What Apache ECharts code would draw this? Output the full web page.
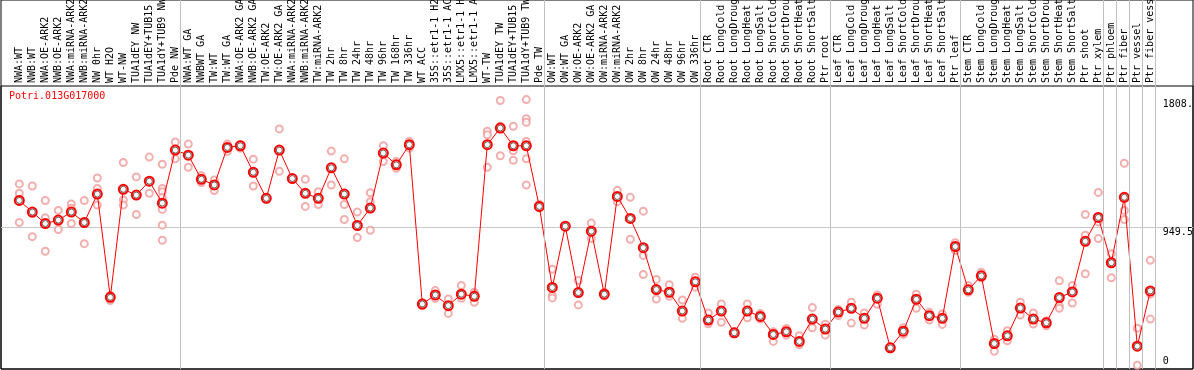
<!DOCTYPE html>
<html>
<head>
<meta charset="utf-8">
<style>html,body{margin:0;padding:0;background:#fff}#c{width:1194px;height:370px}</style>
<script src="https://cdn.jsdelivr.net/npm/echarts@6/dist/echarts.min.js"></script>
</head>
<body>
<div id="c"></div>
<script>
const title = 'Potri.013G017000';
const categories = [
 'NWA:WT','NWB:WT','NWA:OE-ARK2','NWB:OE-ARK2','NWA:miRNA-ARK2','NWB:miRNA-ARK2','NW 0hr','WT H2O','WT-NW','TUA1dEY NW',
 'TUA1dEY+TUB15 NW','TUA1dY+TUB9 NW','Pde NW','NWA:WT GA','NWBWT GA','TW:WT','TW:WT GA','NWA:OE-ARK2 GA','NWB:OE-ARK2 GA','TW:OE-ARK2',
 'TW:OE-ARK2 GA','NWA:miRNA-ARK2 GA','NWB:miRNA-ARK2 GA','TW:miRNA-ARK2','TW 2hr','TW 8hr','TW 24hr','TW 48hr','TW 96hr','TW 168hr',
 'TW 336hr','WT ACC','35S::etr1-1 H2O','35S::etr1-1 ACC','LMX5::etr1-1 H2O','LMX5::etr1-1 ACC','WT-TW','TUA1dEY TW','TUA1dEY+TUB15 TW','TUA1dY+TUB9 TW',
 'Pde TW','OW:WT','OW:WT GA','OW:OE-ARK2','OW:OE-ARK2 GA','OW:miRNA-ARK2','OW:miRNA-ARK2 GA','OW 2hr','OW 8hr','OW 24hr',
 'OW 48hr','OW 96hr','OW 336hr','Root CTR','Root LongCold','Root LongDrought','Root LongHeat','Root LongSalt','Root ShortCold','Root ShortDrought',
 'Root ShortHeat','Root ShortSalt','Ptr root','Leaf CTR','Leaf LongCold','Leaf LongDrought','Leaf LongHeat','Leaf LongSalt','Leaf ShortCold','Leaf ShortDrought',
 'Leaf ShortHeat','Leaf ShortSalt','Ptr leaf','Stem CTR','Stem LongCold','Stem LongDrought','Stem LongHeat','Stem LongSalt','Stem ShortCold','Stem ShortDrought',
 'Stem ShortHeat','Stem ShortSalt','Ptr shoot','Ptr xylem','Ptr phloem','Ptr fiber','Ptr vessel','Ptr fiber vessel'
];
const means = [
 1131,1053,976,999,1053,983,1174,481,1206,1167,
 1260,1113,1469,1435,1273,1235,1487,1498,1320,1145,
 1469,1278,1179,1145,1350,1174,963,1080,1449,1370,
 1505,436,497,425,502,488,1505,1617,1498,1498,
 1091,547,958,513,925,502,1158,1010,814,533,
 515,389,585,328,389,243,389,353,232,250,
 185,335,268,382,407,340,475,142,254,468,
 358,340,822,531,625,171,223,409,335,310,
 479,517,857,1017,713,1152,153,524
];
const replicates = [
 [1242,1179,983],[1228,1043,888],[1131,1015,790],[1064,999,936],[1107,1078,976],[1131,983,841],[1282,1212,1100],[488,459,495],[1386,1134,1100],[1289,1167,1037],
 [1422,1260,1179],[1374,1212,1190,1150,1071,965,864],[1523,1469,1410],[1509,1435,1354],[1298,1273,1251],[1269,1235,1197],[1509,1487,1460],[1498,1482,1505],[1408,1320,1228],[1145,1140,1150],
 [1611,1469,1327],[1278,1280,1275],[1273,1179,1091],[1190,1145,1104],[1462,1350,1235],[1410,1104,1003],[1053,963,882],[1183,1123,931],[1498,1449,1392],[1392,1370,1347],
 [1527,1505,1482],[436,425,445],[526,497,475],[470,425,373],[560,502,475],[515,500,448],[1595,1572,1354],[1802,1629,1431],[1629,1464,1401],[1808,1680,1655,1527,1410,1235],
 [1105,1091,1080],[670,493,477],[958,955,962],[594,513,430],[979,925,875],[502,515,490],[1199,1158,1123],[1152,1010,871],[1059,762,634],[601,533,470],
 [565,515,488],[463,389,340],[616,585,549],[376,328,304],[436,389,313],[243,236,250],[436,389,344],[373,353,335],[250,232,185],[272,250,227],
 [223,185,162],[412,335,277],[301,268,227],[358,382,400],[448,407,308],[376,340,295],[497,475,434],[142,135,148],[277,254,232],[502,468,407],
 [380,358,328],[369,340,299],[848,822,796],[560,531,515],[650,625,610],[200,171,119],[257,223,189],[448,409,362],[376,335,302],[324,310,290],
 [592,425,407],[560,517,443],[1037,898,639],[1185,987,875],[774,713,612],[1381,1064,1003],[274,153,25],[729,502,335]
];
const yLabels = [0, 949.5, 1808];
const yMax = 1899;
const groupEnds = [-1, 12, 40, 52, 62, 72, 83, 84, 85, 86, 87];

const repData = [];
replicates.forEach((arr, i) => arr.forEach(v => repData.push([i, v])));

const PL = 12.8, PW = 1144, FONT = 'DejaVu Sans Mono';
const NB = {outerBoundsMode: 'none', containLabel: false};
const chart = echarts.init(document.getElementById('c'), null, {renderer: 'canvas'});
chart.setOption({
  animation: false,
  backgroundColor: '#fff',
  title: {text: title, left: 9, top: 91, padding: 0, textStyle: {color: '#ff0000', fontFamily: FONT, fontSize: 10, fontWeight: 'normal'}},
  grid: [
    Object.assign({left: 1, top: 0, width: 1192, height: 369, show: true, borderColor: '#000', borderWidth: 1, backgroundColor: 'transparent'}, NB),
    Object.assign({left: 1, top: 86, width: 1192, height: 283, show: true, borderColor: '#000', borderWidth: 1, backgroundColor: 'transparent'}, NB),
    Object.assign({left: PL, top: 0, width: PW, height: 369}, NB),
    Object.assign({left: PL, top: 86, width: PW, height: 283}, NB)
  ],
  xAxis: [
    {gridIndex: 0, type: 'value', show: false},
    {gridIndex: 1, type: 'value', show: false},
    {gridIndex: 2, type: 'value', min: -0.5, max: 87.5, show: false},
    {gridIndex: 3, type: 'category', data: categories, position: 'top', boundaryGap: true,
     axisLine: {show: false}, axisTick: {show: false}, splitLine: {show: false},
     axisLabel: {interval: 0, rotate: 90, margin: 3, align: 'left', verticalAlign: 'middle', color: '#000', fontFamily: FONT, fontSize: 10}}
  ],
  yAxis: [
    {gridIndex: 0, type: 'value', show: false},
    {gridIndex: 1, type: 'value', min: 0, max: yMax, interval: yMax / 2,
     axisLine: {show: false}, axisTick: {show: false}, axisLabel: {show: false},
     splitLine: {show: true, showMinLine: false, showMaxLine: false, lineStyle: {color: '#c8c8c8', width: 1}}},
    {gridIndex: 2, type: 'value', min: 0, max: 1, show: false},
    {gridIndex: 3, type: 'value', min: 0, max: yMax, position: 'right',
     axisLine: {show: false}, axisTick: {show: false}, splitLine: {show: false},
     axisLabel: {customValues: yLabels.slice(1), margin: 6, align: 'left', verticalAlign: 'top', color: '#000', fontFamily: FONT, fontSize: 10,
       formatter: v => (v === 1808 ? '1808.' : String(v))}},
    {gridIndex: 3, type: 'value', min: 0, max: yMax, position: 'right',
     axisLine: {show: false}, axisTick: {show: false}, splitLine: {show: false},
     axisLabel: {customValues: [yLabels[0]], margin: 6, align: 'left', verticalAlign: 'bottom', padding: [0,0,3,0], color: '#000', fontFamily: FONT, fontSize: 10}}
  ],
  series: [
    {type: 'line', xAxisIndex: 2, yAxisIndex: 2, data: [], silent: true,
     markLine: {silent: true, symbol: 'none', label: {show: false},
       lineStyle: {color: '#c0c0c0', width: 1, type: 'solid'},
       data: groupEnds.map(g => ({xAxis: g + 5 / 13}))}},
    {type: 'scatter', xAxisIndex: 3, yAxisIndex: 3, data: repData, symbol: 'emptyCircle', symbolSize: 7,
     itemStyle: {color: '#f09a9a', borderColor: '#f09a9a', borderWidth: 1.3}, z: 3},
    {type: 'line', xAxisIndex: 3, yAxisIndex: 3, data: means, symbol: 'emptyCircle', symbolSize: 9,
     lineStyle: {color: '#ff0000', width: 1}, itemStyle: {color: '#ff0000', borderColor: '#ff0000', borderWidth: 1.5}, z: 4},
    {type: 'scatter', xAxisIndex: 3, yAxisIndex: 3, data: means, symbol: 'circle', symbolSize: 6,
     itemStyle: {color: 'transparent', borderColor: '#200000', borderWidth: 0.8}, z: 5}
  ]
});
</script>
</body>
</html>
